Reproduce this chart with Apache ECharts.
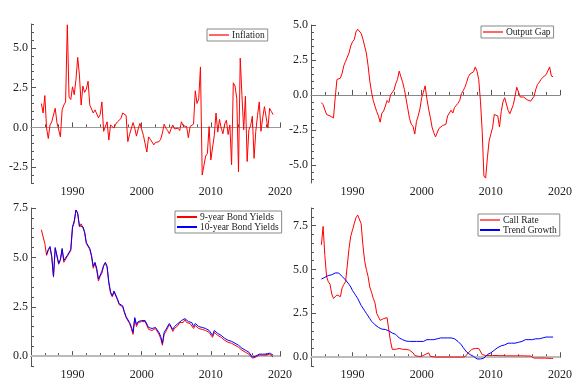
<!DOCTYPE html>
<html>
<head>
<meta charset="utf-8">
<script src="https://cdn.jsdelivr.net/npm/echarts@6/dist/echarts.min.js"></script>
<style>
    html, body { margin: 0; padding: 0; background: #fff; }
    #main { width: 585px; height: 391px; }
</style>
</head>
<body>
<div id="main"></div>
<script>
// quarterly data, first observation 1985 Q3
var startYear = 1985.5;

var inflation = [
    1.5, 0.9,
    2.0, -0.05, -0.7, 0.15,
    0.35, 0.35, 1.2, 0.3,
    0.3, -0.6, 1.1, 1.4,
    1.6, 6.45, 1.9, 1.75,
    2.55, 2.05, 3.0, 4.4,
    3.3, 1.4, 2.6, 2.2,
    2.4, 2.9, 1.4, 1.5,
    0.9, 1.1, 1.1, 0.6,
    0.8, 1.6, -0.25, -0.35,
    0.35, -0.8, 0.15, 0.25,
    -0.05, 0.2, 0.35, 0.45,
    0.55, 0.9, 0.8, 0.75,
    -0.9, -0.45, -0.5, 0.3,
    -0.05, -0.55, -0.1, 0.25,
    0.15, -0.5, -0.55, -1.55,
    -0.6, -0.75, -0.65, -1.1,
    -0.95, -0.9, -0.9, -0.75,
    -0.35, 0.2, -0.05, -0.2,
    -0.4, -0.1, 0.15, -0.1,
    -0.05, -0.05, -0.2, 0.35,
    0.1, 0.1, 0.05, -0.65,
    0.05, 0.15, 0.2, 2.3,
    1.5, 1.8, 3.8, -3.0,
    -3.0, -1.8, -1.65, 0.05,
    -2.05, -2.05, -0.5, 0.9,
    -0.3, 0.5, -0.05, -0.4,
    0.2, 0.45, -0.45, 0.15,
    -2.35, 2.8, 2.6, 1.8,
    -2.8, 4.35, 2.0, -0.15,
    1.95, -2.15, -0.15, 0.1,
    0.7, -1.95, -0.25, 0.75,
    1.6, -0.25, 0.6, 1.3,
    1.2, -0.05, 1.2, 1.0,
    0.8
];

var outputGap = [
    -0.55, -0.7,
    -0.75, -1.4, -1.45, -1.5,
    -1.6, -1.65, -0.2, 1.1,
    1.15, 1.2, 1.55, 2.1,
    2.4, 2.5, 3.0, 3.5,
    3.8, 3.95, 4.5, 4.7,
    4.6, 4.4, 4.0, 3.5,
    3.0, 2.1, 1.0, 0.2,
    -0.4, -0.8, -1.2, -1.5,
    -1.95, -1.3, -1.15, -0.8,
    -0.4, -0.55, 0.0, 0.1,
    0.35, 0.8, 1.1, 1.7,
    1.3, 0.9, 0.4, -0.3,
    -1.0, -1.7, -2.1, -2.25,
    -2.8, -1.9, -1.5, -1.0,
    -0.2, 0.2, 0.65, -0.25,
    -1.0, -1.6, -2.3, -2.7,
    -3.0, -2.95, -2.4, -2.3,
    -2.2, -2.15, -2.1, -1.5,
    -1.4, -1.1, -1.3, -0.9,
    -0.8, -0.6, -0.4, 0.1,
    0.3, 0.55, 0.9, 1.3,
    1.5, 1.55, 1.65, 2.0,
    1.7, 1.1, -0.45, -2.6,
    -5.8, -5.95, -4.5, -3.3,
    -2.8, -2.35, -1.4, -1.4,
    -1.5, -2.3, -1.2, -0.5,
    -0.2, -0.65, -1.1, -1.35,
    -1.25, -0.7, -0.1, 0.55,
    0.5, -0.15, -0.2, -0.15,
    -0.05, -0.35, -0.45, -0.45,
    -0.55, -0.1, 0.4, 0.75,
    0.9, 1.1, 1.25, 1.35,
    1.45, 1.4, 2.0, 1.35,
    1.3
];

var bond9 = [
    6.4, 6.35,
    5.7, 5.1, 5.35, 5.5,
    5.0, 4.0, 5.45, 5.4,
    4.65, 4.85, 5.4, 4.75,
    4.85, 5.05, 5.05, 5.35,
    6.5, 6.75, 7.4, 7.2,
    6.55, 6.7, 6.5, 6.25,
    5.7, 5.75, 5.4, 5.05,
    4.45, 4.7, 4.35, 3.8,
    4.05, 4.2, 4.55, 4.7,
    4.5, 3.7, 3.2, 3.0,
    3.25, 3.2, 2.85, 2.6,
    2.55, 2.5, 2.2, 1.95,
    1.85, 1.65, 1.4, 1.1,
    1.9, 1.5, 1.7, 1.75,
    1.75, 1.75, 1.75, 1.65,
    1.35, 1.25, 1.3, 1.4,
    1.4, 1.3, 1.1, 0.9,
    0.55, 1.1, 1.25, 1.35,
    1.6, 1.45, 1.25, 1.4,
    1.4, 1.55, 1.7, 1.7,
    1.7, 1.85, 1.7, 1.65,
    1.65, 1.6, 1.4, 1.55,
    1.45, 1.4, 1.3, 1.35,
    1.3, 1.3, 1.25, 1.2,
    1.1, 0.95, 1.2, 1.1,
    1.05, 1.0, 0.95, 0.9,
    0.8, 0.75, 0.7, 0.65,
    0.65, 0.6, 0.55, 0.45,
    0.45, 0.35, 0.3, 0.25,
    0.2, 0.15, 0.1, 0.1,
    -0.1, -0.1, -0.05, 0.05,
    0.05, 0.05, 0.05, 0.05,
    0.05, 0.05, 0.1, 0.1,
    -0.05
];

var bond10 = [
    null, null,
    null, 5.15, 5.4, 5.55,
    5.05, 4.05, 5.5, 5.45,
    4.7, 4.9, 5.45, 4.85,
    4.95, 5.1, 5.1, 5.4,
    6.55, 6.85, 7.4, 7.25,
    6.6, 6.7, 6.55, 6.3,
    5.75, 5.8, 5.45, 5.1,
    4.55, 4.75, 4.45, 3.9,
    4.1, 4.3, 4.6, 4.75,
    4.55, 3.75, 3.25, 3.05,
    3.3, 3.25, 2.9, 2.65,
    2.6, 2.55, 2.25, 2.0,
    1.9, 1.7, 1.5, 1.2,
    1.95, 1.6, 1.75, 1.8,
    1.8, 1.8, 1.8, 1.7,
    1.45, 1.35, 1.4, 1.45,
    1.45, 1.4, 1.2, 1.0,
    0.65, 1.2, 1.35, 1.45,
    1.65, 1.55, 1.35, 1.5,
    1.5, 1.65, 1.75, 1.8,
    1.8, 1.9, 1.8, 1.75,
    1.75, 1.7, 1.5, 1.65,
    1.55, 1.5, 1.4, 1.45,
    1.4, 1.4, 1.35, 1.3,
    1.2, 1.05, 1.3, 1.2,
    1.15, 1.1, 1.05, 1.0,
    0.9, 0.85, 0.8, 0.75,
    0.75, 0.7, 0.65, 0.55,
    0.55, 0.45, 0.4, 0.35,
    0.3, 0.25, 0.2, 0.2,
    -0.05, -0.05, 0.0, 0.1,
    0.1, 0.1, 0.1, 0.1,
    0.1, 0.1, 0.15, 0.15,
    0.05
];

var callRate = [
    6.4, 7.45,
    5.8, 4.6, 4.3, 4.15,
    3.6, 3.35, 3.4, 3.55,
    3.65, 3.45, 3.95, 4.15,
    4.3, 5.25, 6.2, 6.9,
    7.25, 7.6, 7.95, 8.1,
    8.1, 7.6, 6.4, 5.5,
    5.0, 4.6, 4.0, 3.7,
    3.35, 3.1, 2.5, 2.3,
    2.1, 2.05, 2.2, 2.25,
    2.25, 1.55, 0.9, 0.45,
    0.45, 0.45, 0.5, 0.5,
    0.5, 0.45, 0.45, 0.45,
    0.45, 0.4, 0.3, 0.25,
    0.1, 0.05, 0.05, 0.05,
    0.05, 0.1, 0.15, 0.25,
    0.25, 0.05, 0.02, 0.02,
    0.01, 0.01, 0.01, 0.01,
    0.01, 0.01, 0.01, 0.01,
    0.01, 0.01, 0.01, 0.01,
    0.01, 0.01, 0.01, 0.01,
    0.01, 0.02, 0.02, 0.25,
    0.3, 0.45, 0.5, 0.5,
    0.5, 0.5, 0.45, 0.15,
    0.1, 0.1, 0.1, 0.1,
    0.1, 0.1, 0.1, 0.1,
    0.09, 0.09, 0.09, 0.09,
    0.08, 0.08, 0.08, 0.08,
    0.08, 0.08, 0.08, 0.08,
    0.08, 0.08, 0.08, 0.08,
    0.07, 0.07, 0.07, 0.07,
    -0.03, -0.05, -0.05, -0.05,
    -0.05, -0.05, -0.05, -0.05,
    -0.06, -0.06, -0.07, -0.07,
    -0.07
];

var trendGrowth = [
    4.45, 4.5,
    4.55, 4.6, 4.65, 4.68,
    4.7, 4.75, 4.8, 4.8,
    4.8, 4.72, 4.6, 4.5,
    4.4, 4.3, 4.15, 4.0,
    3.8, 3.65, 3.5, 3.35,
    3.15, 2.95, 2.8, 2.65,
    2.5, 2.35, 2.2, 2.05,
    1.95, 1.85, 1.75, 1.7,
    1.65, 1.6, 1.6, 1.58,
    1.55, 1.5, 1.42, 1.38,
    1.35, 1.3, 1.2, 1.1,
    1.05, 1.0, 0.95, 0.92,
    0.9, 0.9, 0.9, 0.9,
    0.9, 0.9, 0.9, 0.9,
    0.9, 0.9, 1.0, 1.0,
    1.0, 1.0, 1.0, 1.0,
    1.0, 1.05, 1.1, 1.1,
    1.1, 1.1, 1.1, 1.1,
    1.1, 1.1, 1.1, 1.05,
    1.0, 0.9, 0.8, 0.7,
    0.55, 0.45, 0.3, 0.2,
    0.15, 0.1, 0.05, 0.0,
    -0.1, -0.1, -0.1, -0.1,
    -0.05, 0.05, 0.15, 0.2,
    0.25, 0.35, 0.4, 0.45,
    0.55, 0.6, 0.65, 0.7,
    0.7, 0.75, 0.8, 0.8,
    0.8, 0.8, 0.8, 0.8,
    0.85, 0.85, 0.9, 0.95,
    1.0, 1.0, 1.0, 1.0,
    1.0, 1.05, 1.05, 1.05,
    1.05, 1.1, 1.1, 1.15,
    1.15, 1.15, 1.15, 1.15,
    1.15
];

// axis labels
var xLabels = [1990, 2000, 2010, 2020];
var yLabels = [
    [-2.5, 0, 2.5, 5],
    [-5, -2.5, 0, 2.5, 5],
    [0, 2.5, 5, 7.5],
    [0, 2.5, 5, 7.5]
];
var yRanges = [[-3.5, 6.5], [-6.3, 5], [-0.5, 7.5], [-0.5, 8.5]];

var font = 'Liberation Serif';
var axisColor = '#555';

function steps(lo, hi, step) {
    var out = [];
    for (var v = Math.ceil(lo / step - 1e-9) * step; v <= hi + 1e-9; v += step) {
        out.push(+v.toFixed(2));
    }
    return out;
}

function toPairs(values) {
    return values.map(function (v, i) {
        return [startYear + i * 0.25, v];
    });
}

var grids = [
    { left: 31, top: 24, width: 249, height: 159 },
    { left: 311, top: 25, width: 249, height: 158 },
    { left: 31, top: 208, width: 249, height: 158 },
    { left: 311, top: 208, width: 249, height: 158 }
];

var xAxes = [];
var yAxes = [];
grids.forEach(function (g, i) {
    // main axis: labels and long ticks
    xAxes.push({
        gridIndex: i, type: 'value', min: 1984, max: 2020,
        axisLine: { lineStyle: { color: axisColor } },
        axisTick: { inside: true, length: 5, customValues: xLabels, lineStyle: { color: axisColor } },
        axisLabel: {
            customValues: xLabels, margin: 3, fontFamily: font, fontSize: 12, color: '#222',
            formatter: function (v) { return String(v); }
        },
        splitLine: { show: false }
    });
    // short ticks every 2 years
    xAxes.push({
        gridIndex: i, type: 'value', min: 1984, max: 2020, position: 'bottom',
        axisLine: { show: false },
        axisTick: { inside: true, length: 3, customValues: steps(1984, 2020, 2), lineStyle: { color: axisColor } },
        axisLabel: { show: false },
        splitLine: { show: false }
    });
    yAxes.push({
        gridIndex: i, type: 'value', min: yRanges[i][0], max: yRanges[i][1],
        axisLine: { show: true, lineStyle: { color: axisColor } },
        axisTick: { show: true, inside: true, length: 5, customValues: yLabels[i], lineStyle: { color: axisColor } },
        axisLabel: {
            customValues: yLabels[i], margin: 3, fontFamily: font, fontSize: 12, color: '#222',
            formatter: function (v) { return v.toFixed(1); }
        },
        splitLine: { show: false }
    });
    yAxes.push({
        gridIndex: i, type: 'value', min: yRanges[i][0], max: yRanges[i][1], position: 'left',
        axisLine: { show: false },
        axisTick: { show: true, inside: true, length: 3, customValues: steps(yRanges[i][0], yRanges[i][1], 0.5), lineStyle: { color: axisColor } },
        axisLabel: { show: false },
        splitLine: { show: false }
    });
});

// gray line at zero, drawn under the data
function zeroSeries(grid, color, width) {
    return {
        type: 'line', data: [], z: 1,
        xAxisIndex: grid * 2, yAxisIndex: grid * 2,
        markLine: {
            z: 1, silent: true, symbol: 'none', label: { show: false },
            lineStyle: { color: color, width: width, type: 'solid' },
            data: [{ yAxis: 0 }]
        }
    };
}

function lineSeries(name, values, grid, color) {
    return {
        name: name, type: 'line', data: toPairs(values), z: 3,
        xAxisIndex: grid * 2, yAxisIndex: grid * 2,
        showSymbol: false, connectNulls: false,
        lineStyle: { color: color, width: 1 },
        itemStyle: { color: color }
    };
}

function legendBox(left, top, names) {
    return {
        left: left, top: top, orient: 'vertical',
        data: names,
        icon: 'rect', itemWidth: 20, itemHeight: 2, itemGap: 0,
        padding: [1, 3, 1, 2],
        borderColor: '#888', borderWidth: 1, borderRadius: 0,
        textStyle: { fontFamily: font, fontSize: 9.5, lineHeight: 10, color: '#222', padding: [0, 0, 0, -2] }
    };
}

var chartDom = document.getElementById('main');
var myChart = echarts.init(chartDom);
var option = {
    animation: false,
    backgroundColor: '#fff',
    grid: grids,
    xAxis: xAxes,
    yAxis: yAxes,
    legend: [
        legendBox(207, 29, [{ name: 'Inflation', itemStyle: { color: '#ff6666' } }]),
        legendBox(481, 26, [{ name: 'Output Gap', itemStyle: { color: '#ff6666' } }]),
        legendBox(175, 211, ['9-year Bond Yields', '10-year Bond Yields']),
        legendBox(478, 214, [{ name: 'Call Rate', itemStyle: { color: '#ff6666' } }, 'Trend Growth'])
    ],
    series: [
        zeroSeries(0, '#999', 1),
        zeroSeries(1, '#888', 1),
        zeroSeries(2, '#bbb', 2),
        zeroSeries(3, '#bbb', 2),
        lineSeries('Inflation', inflation, 0, '#ff0000'),
        lineSeries('Output Gap', outputGap, 1, '#ff0000'),
        lineSeries('9-year Bond Yields', bond9, 2, '#ff0000'),
        lineSeries('10-year Bond Yields', bond10, 2, '#0000ff'),
        lineSeries('Call Rate', callRate, 3, '#ff0000'),
        lineSeries('Trend Growth', trendGrowth, 3, '#0000ff')
    ]
};
option && myChart.setOption(option);
</script>
</body>
</html>
